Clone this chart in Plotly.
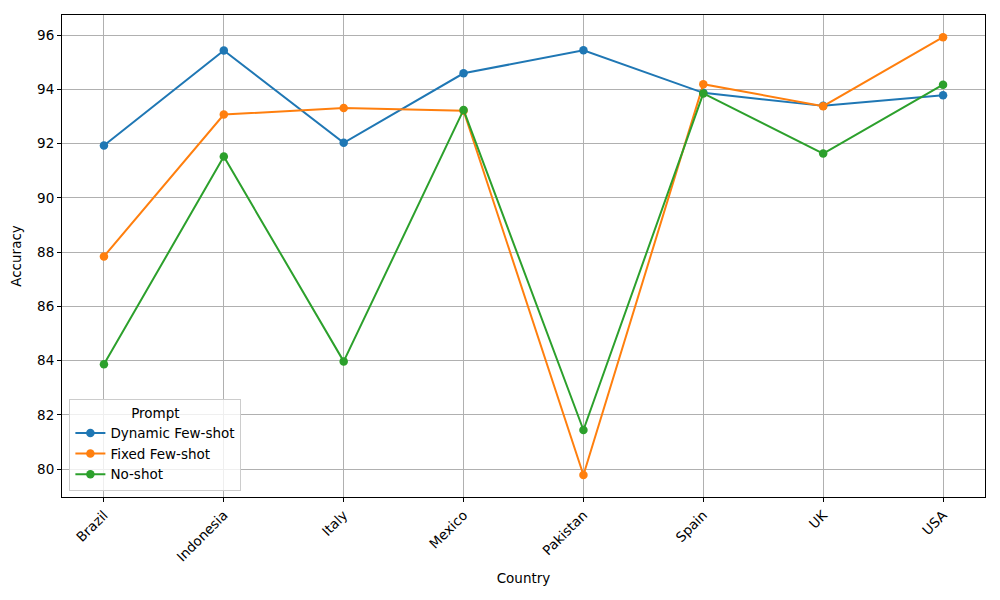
import plotly.graph_objects as go

countries = ["Brazil", "Indonesia", "Italy", "Mexico", "Pakistan", "Spain", "UK", "USA"]
dynamic = [91.93, 95.43, 92.03, 94.59, 95.44, 93.87, 93.39, 93.78]
fixed = [87.84, 93.07, 93.31, 93.21, 79.78, 94.19, 93.38, 95.92]
noshot = [83.86, 91.52, 83.97, 93.24, 81.44, 93.85, 91.63, 94.17]

series = [("Dynamic Few-shot", dynamic, "#1f77b4"),
          ("Fixed Few-shot", fixed, "#ff7f0e"),
          ("No-shot", noshot, "#2ca02c")]

fig = go.Figure()
for name, vals, color in series:
    fig.add_trace(go.Scatter(x=list(range(len(countries))), y=vals, name=name,
                             mode="lines+markers",
                             line=dict(color=color, width=2),
                             marker=dict(color=color, size=8.5)))

axis_common = dict(showline=True, linecolor="black", linewidth=1, mirror=True,
                   showgrid=True, gridcolor="#b0b0b0", gridwidth=1,
                   ticks="outside", ticklen=4, tickcolor="black",
                   tickfont=dict(size=13.5, color="black"), zeroline=False)

fig.update_layout(
    width=984, height=584,
    paper_bgcolor="white", plot_bgcolor="white",
    font=dict(family="DejaVu Sans", size=13.5, color="black"),
    margin=dict(l=54, r=7, t=7, b=95),
    xaxis=dict(axis_common, tickmode="array", tickvals=list(range(len(countries))),
               ticktext=countries, tickangle=-45, range=[-0.35, 7.35],
               title=dict(text="Country", font=dict(size=13.5), standoff=10)),
    yaxis=dict(axis_common, range=[78.97, 96.74], tickmode="array",
               tickvals=[80, 82, 84, 86, 88, 90, 92, 94, 96],
               title=dict(text="Accuracy", font=dict(size=13.5), standoff=12)),
    legend=dict(title=dict(text="Prompt", side="top center", font=dict(size=13.5)),
                x=0.008, y=0.012, xanchor="left", yanchor="bottom",
                bgcolor="rgba(255,255,255,0.8)", bordercolor="#cccccc", borderwidth=1,
                font=dict(size=13.5), itemwidth=30, tracegroupgap=0),
    showlegend=True,
)

fig.write_html("out.html")
